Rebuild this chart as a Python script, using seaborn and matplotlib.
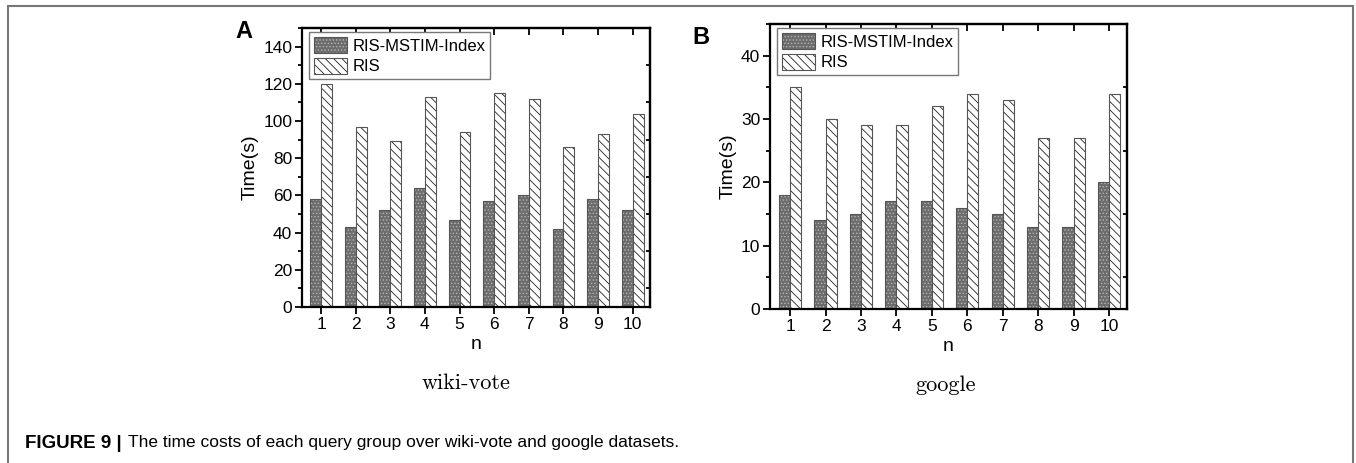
import numpy as np
import pandas as pd
import matplotlib
matplotlib.use('Agg')
import matplotlib.pyplot as plt
import matplotlib.colors as mcolors
from matplotlib.patches import Rectangle
from matplotlib.ticker import MultipleLocator
import seaborn as sns

# query groups and the two methods
queries = [str(i) for i in range(1, 11)]
methods = ['RIS-MSTIM-Index', 'RIS']

# time costs (s)
wiki_index = [58, 43, 52, 64, 47, 57, 60, 42, 58, 52]
wiki_ris = [120, 97, 89, 113, 94, 115, 112, 86, 93, 104]
google_index = [18, 14, 15, 17, 17, 16, 15, 13, 13, 20]
google_ris = [35, 30, 29, 29, 32, 34, 33, 27, 27, 34]


def make_df(index_vals, ris_vals):
    return pd.DataFrame({
        'n': queries * 2,
        'time': index_vals + ris_vals,
        'method': [methods[0]] * len(queries) + [methods[1]] * len(queries),
    })


sns.set_theme(style='ticks')
plt.rcParams['font.family'] = ['Liberation Sans', 'DejaVu Sans']
plt.rcParams['hatch.linewidth'] = 0.6
for key in ['text.color', 'axes.labelcolor', 'xtick.color', 'ytick.color']:
    plt.rcParams[key] = 'black'

W, H = 1356, 463
fig = plt.figure(figsize=(W / 100, H / 100), dpi=100)


def px_axes(left, top, right, bottom):
    return fig.add_axes([left / W, 1 - bottom / H, (right - left) / W, (bottom - top) / H])


def draw_panel(ax, df, ymax, major, xlim):
    sns.barplot(data=df, x='n', y='time', hue='method', hue_order=methods, order=queries,
                palette={methods[0]: '#6c6c6c', methods[1]: 'white'},
                width=0.63, gap=0, saturation=1, edgecolor='#555555', linewidth=0.8,
                errorbar=None, legend=False, ax=ax)
    for bar in ax.containers[0]:
        bar.set_hatch('.....')
        bar._hatch_color = mcolors.to_rgba('#b5b5b5')
    for bar in ax.containers[1]:
        bar.set_hatch('\\\\\\\\')
        bar._hatch_color = mcolors.to_rgba('#222222')

    ax.set_xlim(*xlim)
    ax.set_ylim(0, ymax)
    ax.yaxis.set_major_locator(MultipleLocator(major))
    ax.yaxis.set_minor_locator(MultipleLocator(major / 2))
    ax.set_xlabel('n', fontsize=14, labelpad=3)
    ax.set_ylabel('Time(s)', fontsize=14, labelpad=3)
    ax.tick_params(which='major', direction='out', length=5, width=1.3, labelsize=12.5,
                   color='black', pad=2)
    ax.tick_params(axis='y', which='minor', direction='out', length=3, width=1.3)
    for sp in ax.spines.values():
        sp.set_visible(True)
        sp.set_linewidth(1.6)
        sp.set_color('black')

    top = ax.secondary_xaxis('top')
    top.xaxis.set_major_locator(MultipleLocator(1))
    top.tick_params(direction='in', length=5, width=1.3, labeltop=False)
    top.spines['top'].set_linewidth(1.6)
    right = ax.secondary_yaxis('right')
    right.yaxis.set_major_locator(MultipleLocator(major, offset=major / 2))
    right.tick_params(direction='in', length=3, width=1.3, labelright=False)
    right.spines['right'].set_linewidth(1.6)

    handles = [ax.containers[0][0], ax.containers[1][0]]
    leg = ax.legend(handles, methods, loc='upper left', bbox_to_anchor=(0.02, 0.986),
                    borderaxespad=0, fontsize=12, fancybox=False, framealpha=1,
                    edgecolor='#777777', borderpad=0.3, labelspacing=0.25,
                    handlelength=2.0, handleheight=1.1, handletextpad=0.3)
    leg.get_frame().set_linewidth(1.0)


ax_a = px_axes(302, 28, 650, 307)
draw_panel(ax_a, make_df(wiki_index, wiki_ris), 150, 20, (-0.55, 9.5))
ax_b = px_axes(770, 24, 1127, 309)
draw_panel(ax_b, make_df(google_index, google_ris), 45, 10, (-0.57, 9.51))

# panel letters
fig.text(244 / W, 1 - 31 / H, 'A', fontsize=17, fontweight='bold', ha='center', va='center')
fig.text(701 / W, 1 - 38 / H, 'B', fontsize=17, fontweight='bold', ha='center', va='center')

# dataset names under each panel
fig.text(466 / W, 1 - 383 / H, 'wiki-vote', fontsize=16, family='cmr10', ha='center', va='center')
fig.text(946 / W, 1 - 385 / H, 'google', fontsize=16, family='cmr10', ha='center', va='center')

# caption
fig.text(25 / W, 1 - 443 / H, 'FIGURE 9 |', fontsize=13.5, fontweight='bold', va='center')
fig.text(128 / W, 1 - 443 / H,
         'The time costs of each query group over wiki-vote and google datasets.',
         fontsize=12.5, va='center')

# outer frame
fig.add_artist(Rectangle((8 / W, -0.05), (1353 - 8) / W, 1.05 - 6 / H,
                         transform=fig.transFigure, fill=False, edgecolor='#777777', lw=1.5))

fig.savefig('out.png', dpi=100)
